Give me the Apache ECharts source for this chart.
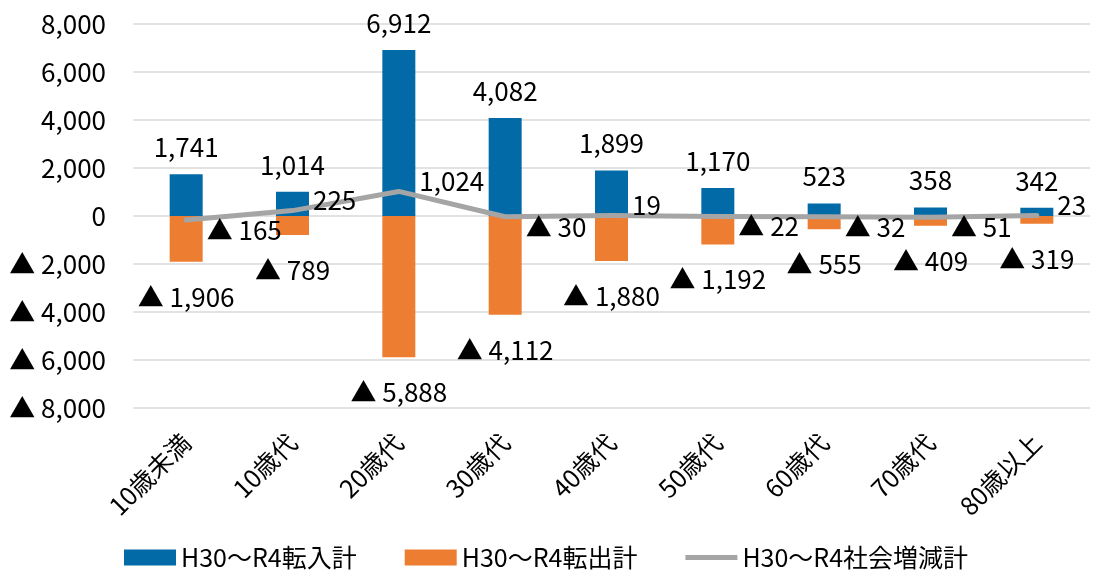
<!DOCTYPE html>
<html>
<head>
<meta charset="utf-8">
<script src="https://cdn.jsdelivr.net/npm/echarts@6/dist/echarts.min.js"></script>
<style>
  html, body { margin: 0; padding: 0; background: #fff; }
  #chart { width: 1094px; height: 577px; }
</style>
</head>
<body>
<div id="chart"></div>
<script>
// 年齢階層別の転入・転出・社会増減（H30〜R4累計）
const categories = ['10歳未満', '10歳代', '20歳代', '30歳代', '40歳代', '50歳代', '60歳代', '70歳代', '80歳以上'];
const transferIn = [1741, 1014, 6912, 4082, 1899, 1170, 523, 358, 342];
const transferOut = [-1906, -789, -5888, -4112, -1880, -1192, -555, -409, -319];
const netChange = [-165, 225, 1024, -30, 19, -22, -32, -51, 23];
const yTicks = { min: -8000, max: 8000, step: 2000 };
const seriesNames = ['H30～R4転入計', 'H30～R4転出計', 'H30～R4社会増減計'];

const FONT = "'Noto Sans CJK JP', 'Noto Sans', sans-serif";
const TEXT = '#000';
const LINE_COLOR = '#a5a5a5';

// 負の値は「▲」付きで表記
function fmt(v) {
  const s = Math.abs(v).toLocaleString('en-US');
  return v < 0 ? '▲ ' + s : s;
}

const chart = echarts.init(document.getElementById('chart'), null, { renderer: 'canvas' });

const labelBase = { color: TEXT, fontFamily: FONT, fontSize: 26 };

chart.setOption({
  animation: false,
  backgroundColor: '#fff',
  textStyle: { fontFamily: FONT },
  grid: { left: 133, right: 4, top: 24, bottom: 169, containLabel: false },
  legend: {
    left: 119,
    bottom: 2,
    itemWidth: 52,
    itemHeight: 16,
    itemGap: 48,
    textStyle: { color: TEXT, fontFamily: FONT, fontSize: 25 },
    data: [
      { name: seriesNames[0], icon: 'rect' },
      { name: seriesNames[1], icon: 'rect' },
      // 折れ線の凡例は太線のみ
      { name: seriesNames[2], icon: 'path://M0,0H52V5H0Z', itemStyle: { color: LINE_COLOR } }
    ]
  },
  xAxis: {
    type: 'category',
    data: categories,
    position: 'bottom',
    axisLine: { show: false, onZero: false },
    axisTick: { show: false },
    axisLabel: {
      rotate: 45,
      margin: 30,
      interval: 0,
      color: TEXT,
      fontFamily: FONT,
      fontSize: 25
    }
  },
  yAxis: {
    type: 'value',
    min: yTicks.min,
    max: yTicks.max,
    interval: yTicks.step,
    axisLine: { show: false },
    axisTick: { show: false },
    splitLine: { lineStyle: { color: '#d9d9d9', width: 1.5 } },
    axisLabel: {
      margin: 27,
      color: TEXT,
      fontFamily: FONT,
      fontSize: 26,
      formatter: fmt
    }
  },
  series: [
    {
      name: seriesNames[0],
      type: 'bar',
      stack: 'flow',
      data: transferIn,
      barWidth: 33,
      itemStyle: { color: '#036aa8' },
      label: {
        show: true,
        position: 'outside',
        distance: 14,
        formatter: p => fmt(p.value),
        ...labelBase
      }
    },
    {
      name: seriesNames[1],
      type: 'bar',
      stack: 'flow',
      data: transferOut,
      barWidth: 33,
      itemStyle: { color: '#ed7d31' },
      label: {
        show: true,
        position: 'outside',
        distance: 22,
        formatter: p => fmt(p.value),
        ...labelBase
      }
    },
    {
      name: seriesNames[2],
      type: 'line',
      data: netChange.map(v => ({
        value: v,
        label: { offset: [0, v < 0 ? 10 : -10] }
      })),
      symbol: 'circle',
      symbolSize: 1,
      showSymbol: true,
      z: 5,
      lineStyle: { color: LINE_COLOR, width: 5, cap: 'round', join: 'round' },
      itemStyle: { color: LINE_COLOR },
      label: {
        show: true,
        position: 'right',
        distance: 20,
        formatter: p => fmt(p.value),
        ...labelBase
      }
    }
  ]
});
</script>
</body>
</html>
